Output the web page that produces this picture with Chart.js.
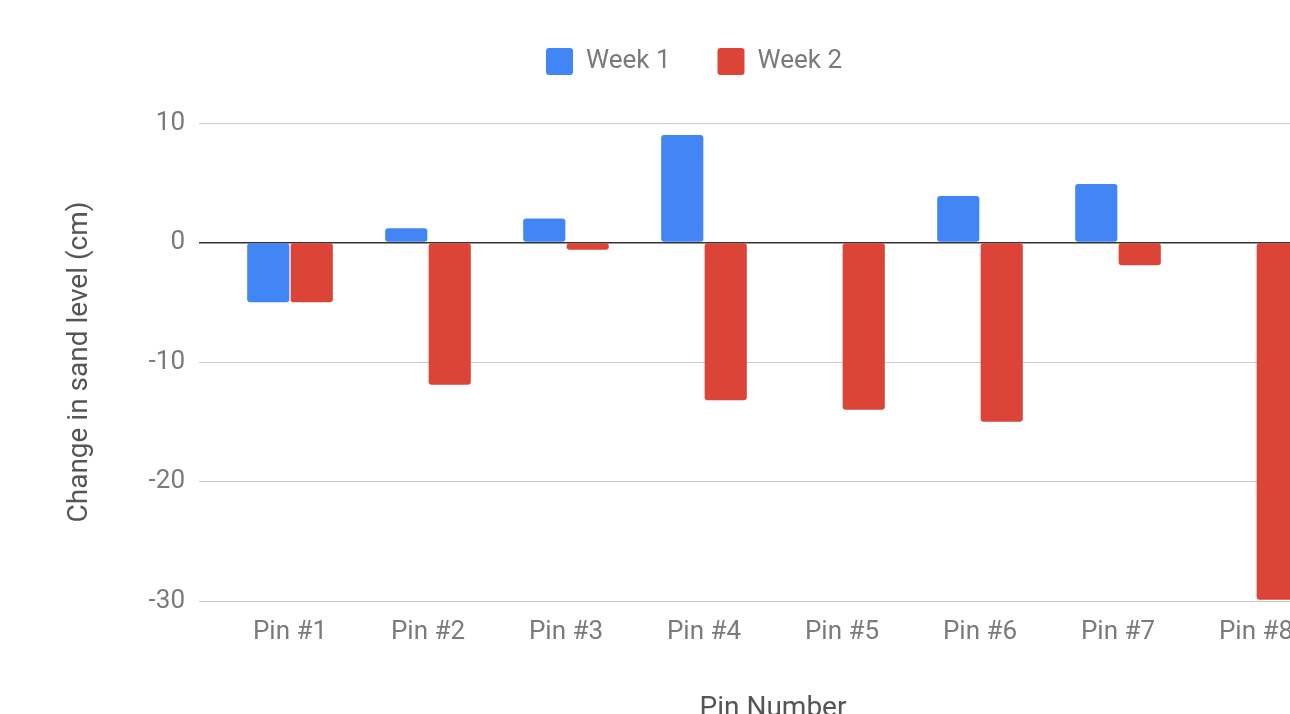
<!DOCTYPE html>
<html>
<head>
<meta charset="utf-8">
<script src="https://cdn.jsdelivr.net/npm/chart.js@4"></script>
<style>
  html, body { margin: 0; padding: 0; background: #fff; overflow: hidden; }
  #wrap { width: 1400px; height: 731px; }
</style>
</head>
<body>
<div id="wrap"><canvas id="chart" width="1400" height="731"></canvas></div>
<script>
// Data
const pins = ['Pin #1', 'Pin #2', 'Pin #3', 'Pin #4', 'Pin #5', 'Pin #6', 'Pin #7', 'Pin #8'];
const week1 = [-5, 1.2, 2, 9, 0, 3.9, 4.9, 0];
const week2 = [-5, -11.9, -0.6, -13.2, -14, -15, -1.9, -29.9];
const yTicks = { min: -30, max: 10, step: 10 };

const grey = '#7a7a7a';
const tickFont = { family: 'Roboto', size: 26 };
const titleFont = { family: 'Roboto', size: 28 };

const ctx = document.getElementById('chart').getContext('2d');
const chart = new Chart(ctx, {
    type: 'bar',
    data: {
        labels: pins,
        datasets: [{
            label: 'Week 1',
            data: week1,
            backgroundColor: '#4285F4',
            borderRadius: 3,
            borderSkipped: false
        }, {
            label: 'Week 2',
            data: week2,
            backgroundColor: '#DB4437',
            borderRadius: 3,
            borderSkipped: false
        }]
    },
    options: {
        responsive: false,
        animation: false,
        categoryPercentage: 0.63,
        barPercentage: 0.97,
        layout: { padding: { left: 63, right: 75, top: 1, bottom: 0 } },
        plugins: {
            tooltip: { enabled: false },
            // empty title used only as a spacer between legend and plot
            title: { display: true, text: '', weight: 500, padding: { top: 0, bottom: 26 }, font: { size: 10 } },
            legend: {
                position: 'top',
                labels: {
                    boxWidth: 27,
                    boxHeight: 27,
                    useBorderRadius: true,
                    borderRadius: 3,
                    padding: 47,
                    color: grey,
                    font: tickFont
                }
            }
        },
        scales: {
            x: {
                grid: { display: false, drawTicks: false },
                border: { display: false },
                ticks: { color: grey, font: tickFont, padding: 16, maxRotation: 0 },
                title: {
                    display: true,
                    text: 'Pin Number',
                    color: '#555',
                    font: titleFont,
                    padding: { top: 0, bottom: 5 }
                },
                afterFit: function (scale) { scale.height = 130; }
            },
            y: {
                min: yTicks.min,
                max: yTicks.max,
                border: { display: false },
                grid: {
                    color: c => (c.tick && c.tick.value === 0) ? '#333' : '#ccc',
                    lineWidth: c => (c.tick && c.tick.value === 0) ? 1.5 : 1,
                    tickLength: 22
                },
                ticks: { stepSize: yTicks.step, color: grey, font: tickFont, padding: 14 },
                title: {
                    display: true,
                    text: 'Change in sand level (cm)',
                    color: '#555',
                    font: titleFont,
                    padding: { top: 0, bottom: 0 }
                },
                afterFit: function (scale) { scale.width = 158; }
            }
        }
    }
});
</script>
</body>
</html>
